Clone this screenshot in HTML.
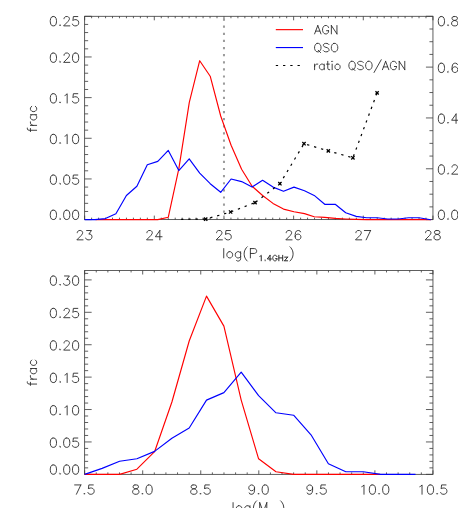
<!DOCTYPE html>
<html><head><meta charset="utf-8"><title>chart</title>
<style>
html,body{margin:0;padding:0;background:#fff;}
body{width:458px;height:508px;overflow:hidden;font-family:"Liberation Sans",sans-serif;}
svg{display:block;position:absolute;left:0;top:0;}
text{font-family:"Liberation Sans",sans-serif;}
</style></head><body>
<svg width="458" height="508" viewBox="0 0 458 508">
<rect width="458" height="508" fill="#fff"/>
<rect x="84.65" y="16.30" width="348.30" height="203.30" fill="none" stroke="#3c3c3c" stroke-width="0.82"/>
<line x1="84.65" y1="16.30" x2="84.65" y2="20.30" stroke="#3c3c3c" stroke-width="0.82" />
<line x1="84.65" y1="219.60" x2="84.65" y2="215.60" stroke="#3c3c3c" stroke-width="0.82" />
<line x1="91.62" y1="16.30" x2="91.62" y2="18.25" stroke="#3c3c3c" stroke-width="0.82" />
<line x1="91.62" y1="219.60" x2="91.62" y2="217.65" stroke="#3c3c3c" stroke-width="0.82" />
<line x1="98.58" y1="16.30" x2="98.58" y2="18.25" stroke="#3c3c3c" stroke-width="0.82" />
<line x1="98.58" y1="219.60" x2="98.58" y2="217.65" stroke="#3c3c3c" stroke-width="0.82" />
<line x1="105.55" y1="16.30" x2="105.55" y2="18.25" stroke="#3c3c3c" stroke-width="0.82" />
<line x1="105.55" y1="219.60" x2="105.55" y2="217.65" stroke="#3c3c3c" stroke-width="0.82" />
<line x1="112.51" y1="16.30" x2="112.51" y2="18.25" stroke="#3c3c3c" stroke-width="0.82" />
<line x1="112.51" y1="219.60" x2="112.51" y2="217.65" stroke="#3c3c3c" stroke-width="0.82" />
<line x1="119.48" y1="16.30" x2="119.48" y2="18.25" stroke="#3c3c3c" stroke-width="0.82" />
<line x1="119.48" y1="219.60" x2="119.48" y2="217.65" stroke="#3c3c3c" stroke-width="0.82" />
<line x1="126.45" y1="16.30" x2="126.45" y2="18.25" stroke="#3c3c3c" stroke-width="0.82" />
<line x1="126.45" y1="219.60" x2="126.45" y2="217.65" stroke="#3c3c3c" stroke-width="0.82" />
<line x1="133.41" y1="16.30" x2="133.41" y2="18.25" stroke="#3c3c3c" stroke-width="0.82" />
<line x1="133.41" y1="219.60" x2="133.41" y2="217.65" stroke="#3c3c3c" stroke-width="0.82" />
<line x1="140.38" y1="16.30" x2="140.38" y2="18.25" stroke="#3c3c3c" stroke-width="0.82" />
<line x1="140.38" y1="219.60" x2="140.38" y2="217.65" stroke="#3c3c3c" stroke-width="0.82" />
<line x1="147.34" y1="16.30" x2="147.34" y2="18.25" stroke="#3c3c3c" stroke-width="0.82" />
<line x1="147.34" y1="219.60" x2="147.34" y2="217.65" stroke="#3c3c3c" stroke-width="0.82" />
<line x1="154.31" y1="16.30" x2="154.31" y2="20.30" stroke="#3c3c3c" stroke-width="0.82" />
<line x1="154.31" y1="219.60" x2="154.31" y2="215.60" stroke="#3c3c3c" stroke-width="0.82" />
<line x1="161.28" y1="16.30" x2="161.28" y2="18.25" stroke="#3c3c3c" stroke-width="0.82" />
<line x1="161.28" y1="219.60" x2="161.28" y2="217.65" stroke="#3c3c3c" stroke-width="0.82" />
<line x1="168.24" y1="16.30" x2="168.24" y2="18.25" stroke="#3c3c3c" stroke-width="0.82" />
<line x1="168.24" y1="219.60" x2="168.24" y2="217.65" stroke="#3c3c3c" stroke-width="0.82" />
<line x1="175.21" y1="16.30" x2="175.21" y2="18.25" stroke="#3c3c3c" stroke-width="0.82" />
<line x1="175.21" y1="219.60" x2="175.21" y2="217.65" stroke="#3c3c3c" stroke-width="0.82" />
<line x1="182.17" y1="16.30" x2="182.17" y2="18.25" stroke="#3c3c3c" stroke-width="0.82" />
<line x1="182.17" y1="219.60" x2="182.17" y2="217.65" stroke="#3c3c3c" stroke-width="0.82" />
<line x1="189.14" y1="16.30" x2="189.14" y2="18.25" stroke="#3c3c3c" stroke-width="0.82" />
<line x1="189.14" y1="219.60" x2="189.14" y2="217.65" stroke="#3c3c3c" stroke-width="0.82" />
<line x1="196.11" y1="16.30" x2="196.11" y2="18.25" stroke="#3c3c3c" stroke-width="0.82" />
<line x1="196.11" y1="219.60" x2="196.11" y2="217.65" stroke="#3c3c3c" stroke-width="0.82" />
<line x1="203.07" y1="16.30" x2="203.07" y2="18.25" stroke="#3c3c3c" stroke-width="0.82" />
<line x1="203.07" y1="219.60" x2="203.07" y2="217.65" stroke="#3c3c3c" stroke-width="0.82" />
<line x1="210.04" y1="16.30" x2="210.04" y2="18.25" stroke="#3c3c3c" stroke-width="0.82" />
<line x1="210.04" y1="219.60" x2="210.04" y2="217.65" stroke="#3c3c3c" stroke-width="0.82" />
<line x1="217.00" y1="16.30" x2="217.00" y2="18.25" stroke="#3c3c3c" stroke-width="0.82" />
<line x1="217.00" y1="219.60" x2="217.00" y2="217.65" stroke="#3c3c3c" stroke-width="0.82" />
<line x1="223.97" y1="16.30" x2="223.97" y2="20.30" stroke="#3c3c3c" stroke-width="0.82" />
<line x1="223.97" y1="219.60" x2="223.97" y2="215.60" stroke="#3c3c3c" stroke-width="0.82" />
<line x1="230.94" y1="16.30" x2="230.94" y2="18.25" stroke="#3c3c3c" stroke-width="0.82" />
<line x1="230.94" y1="219.60" x2="230.94" y2="217.65" stroke="#3c3c3c" stroke-width="0.82" />
<line x1="237.90" y1="16.30" x2="237.90" y2="18.25" stroke="#3c3c3c" stroke-width="0.82" />
<line x1="237.90" y1="219.60" x2="237.90" y2="217.65" stroke="#3c3c3c" stroke-width="0.82" />
<line x1="244.87" y1="16.30" x2="244.87" y2="18.25" stroke="#3c3c3c" stroke-width="0.82" />
<line x1="244.87" y1="219.60" x2="244.87" y2="217.65" stroke="#3c3c3c" stroke-width="0.82" />
<line x1="251.83" y1="16.30" x2="251.83" y2="18.25" stroke="#3c3c3c" stroke-width="0.82" />
<line x1="251.83" y1="219.60" x2="251.83" y2="217.65" stroke="#3c3c3c" stroke-width="0.82" />
<line x1="258.80" y1="16.30" x2="258.80" y2="18.25" stroke="#3c3c3c" stroke-width="0.82" />
<line x1="258.80" y1="219.60" x2="258.80" y2="217.65" stroke="#3c3c3c" stroke-width="0.82" />
<line x1="265.77" y1="16.30" x2="265.77" y2="18.25" stroke="#3c3c3c" stroke-width="0.82" />
<line x1="265.77" y1="219.60" x2="265.77" y2="217.65" stroke="#3c3c3c" stroke-width="0.82" />
<line x1="272.73" y1="16.30" x2="272.73" y2="18.25" stroke="#3c3c3c" stroke-width="0.82" />
<line x1="272.73" y1="219.60" x2="272.73" y2="217.65" stroke="#3c3c3c" stroke-width="0.82" />
<line x1="279.70" y1="16.30" x2="279.70" y2="18.25" stroke="#3c3c3c" stroke-width="0.82" />
<line x1="279.70" y1="219.60" x2="279.70" y2="217.65" stroke="#3c3c3c" stroke-width="0.82" />
<line x1="286.66" y1="16.30" x2="286.66" y2="18.25" stroke="#3c3c3c" stroke-width="0.82" />
<line x1="286.66" y1="219.60" x2="286.66" y2="217.65" stroke="#3c3c3c" stroke-width="0.82" />
<line x1="293.63" y1="16.30" x2="293.63" y2="20.30" stroke="#3c3c3c" stroke-width="0.82" />
<line x1="293.63" y1="219.60" x2="293.63" y2="215.60" stroke="#3c3c3c" stroke-width="0.82" />
<line x1="300.60" y1="16.30" x2="300.60" y2="18.25" stroke="#3c3c3c" stroke-width="0.82" />
<line x1="300.60" y1="219.60" x2="300.60" y2="217.65" stroke="#3c3c3c" stroke-width="0.82" />
<line x1="307.56" y1="16.30" x2="307.56" y2="18.25" stroke="#3c3c3c" stroke-width="0.82" />
<line x1="307.56" y1="219.60" x2="307.56" y2="217.65" stroke="#3c3c3c" stroke-width="0.82" />
<line x1="314.53" y1="16.30" x2="314.53" y2="18.25" stroke="#3c3c3c" stroke-width="0.82" />
<line x1="314.53" y1="219.60" x2="314.53" y2="217.65" stroke="#3c3c3c" stroke-width="0.82" />
<line x1="321.49" y1="16.30" x2="321.49" y2="18.25" stroke="#3c3c3c" stroke-width="0.82" />
<line x1="321.49" y1="219.60" x2="321.49" y2="217.65" stroke="#3c3c3c" stroke-width="0.82" />
<line x1="328.46" y1="16.30" x2="328.46" y2="18.25" stroke="#3c3c3c" stroke-width="0.82" />
<line x1="328.46" y1="219.60" x2="328.46" y2="217.65" stroke="#3c3c3c" stroke-width="0.82" />
<line x1="335.43" y1="16.30" x2="335.43" y2="18.25" stroke="#3c3c3c" stroke-width="0.82" />
<line x1="335.43" y1="219.60" x2="335.43" y2="217.65" stroke="#3c3c3c" stroke-width="0.82" />
<line x1="342.39" y1="16.30" x2="342.39" y2="18.25" stroke="#3c3c3c" stroke-width="0.82" />
<line x1="342.39" y1="219.60" x2="342.39" y2="217.65" stroke="#3c3c3c" stroke-width="0.82" />
<line x1="349.36" y1="16.30" x2="349.36" y2="18.25" stroke="#3c3c3c" stroke-width="0.82" />
<line x1="349.36" y1="219.60" x2="349.36" y2="217.65" stroke="#3c3c3c" stroke-width="0.82" />
<line x1="356.32" y1="16.30" x2="356.32" y2="18.25" stroke="#3c3c3c" stroke-width="0.82" />
<line x1="356.32" y1="219.60" x2="356.32" y2="217.65" stroke="#3c3c3c" stroke-width="0.82" />
<line x1="363.29" y1="16.30" x2="363.29" y2="20.30" stroke="#3c3c3c" stroke-width="0.82" />
<line x1="363.29" y1="219.60" x2="363.29" y2="215.60" stroke="#3c3c3c" stroke-width="0.82" />
<line x1="370.26" y1="16.30" x2="370.26" y2="18.25" stroke="#3c3c3c" stroke-width="0.82" />
<line x1="370.26" y1="219.60" x2="370.26" y2="217.65" stroke="#3c3c3c" stroke-width="0.82" />
<line x1="377.22" y1="16.30" x2="377.22" y2="18.25" stroke="#3c3c3c" stroke-width="0.82" />
<line x1="377.22" y1="219.60" x2="377.22" y2="217.65" stroke="#3c3c3c" stroke-width="0.82" />
<line x1="384.19" y1="16.30" x2="384.19" y2="18.25" stroke="#3c3c3c" stroke-width="0.82" />
<line x1="384.19" y1="219.60" x2="384.19" y2="217.65" stroke="#3c3c3c" stroke-width="0.82" />
<line x1="391.15" y1="16.30" x2="391.15" y2="18.25" stroke="#3c3c3c" stroke-width="0.82" />
<line x1="391.15" y1="219.60" x2="391.15" y2="217.65" stroke="#3c3c3c" stroke-width="0.82" />
<line x1="398.12" y1="16.30" x2="398.12" y2="18.25" stroke="#3c3c3c" stroke-width="0.82" />
<line x1="398.12" y1="219.60" x2="398.12" y2="217.65" stroke="#3c3c3c" stroke-width="0.82" />
<line x1="405.09" y1="16.30" x2="405.09" y2="18.25" stroke="#3c3c3c" stroke-width="0.82" />
<line x1="405.09" y1="219.60" x2="405.09" y2="217.65" stroke="#3c3c3c" stroke-width="0.82" />
<line x1="412.05" y1="16.30" x2="412.05" y2="18.25" stroke="#3c3c3c" stroke-width="0.82" />
<line x1="412.05" y1="219.60" x2="412.05" y2="217.65" stroke="#3c3c3c" stroke-width="0.82" />
<line x1="419.02" y1="16.30" x2="419.02" y2="18.25" stroke="#3c3c3c" stroke-width="0.82" />
<line x1="419.02" y1="219.60" x2="419.02" y2="217.65" stroke="#3c3c3c" stroke-width="0.82" />
<line x1="425.98" y1="16.30" x2="425.98" y2="18.25" stroke="#3c3c3c" stroke-width="0.82" />
<line x1="425.98" y1="219.60" x2="425.98" y2="217.65" stroke="#3c3c3c" stroke-width="0.82" />
<line x1="432.95" y1="16.30" x2="432.95" y2="20.30" stroke="#3c3c3c" stroke-width="0.82" />
<line x1="432.95" y1="219.60" x2="432.95" y2="215.60" stroke="#3c3c3c" stroke-width="0.82" />
<line x1="84.65" y1="219.60" x2="91.65" y2="219.60" stroke="#3c3c3c" stroke-width="0.82" />
<line x1="84.65" y1="211.47" x2="88.15" y2="211.47" stroke="#3c3c3c" stroke-width="0.82" />
<line x1="84.65" y1="203.34" x2="88.15" y2="203.34" stroke="#3c3c3c" stroke-width="0.82" />
<line x1="84.65" y1="195.20" x2="88.15" y2="195.20" stroke="#3c3c3c" stroke-width="0.82" />
<line x1="84.65" y1="187.07" x2="88.15" y2="187.07" stroke="#3c3c3c" stroke-width="0.82" />
<line x1="84.65" y1="178.94" x2="91.65" y2="178.94" stroke="#3c3c3c" stroke-width="0.82" />
<line x1="84.65" y1="170.81" x2="88.15" y2="170.81" stroke="#3c3c3c" stroke-width="0.82" />
<line x1="84.65" y1="162.68" x2="88.15" y2="162.68" stroke="#3c3c3c" stroke-width="0.82" />
<line x1="84.65" y1="154.54" x2="88.15" y2="154.54" stroke="#3c3c3c" stroke-width="0.82" />
<line x1="84.65" y1="146.41" x2="88.15" y2="146.41" stroke="#3c3c3c" stroke-width="0.82" />
<line x1="84.65" y1="138.28" x2="91.65" y2="138.28" stroke="#3c3c3c" stroke-width="0.82" />
<line x1="84.65" y1="130.15" x2="88.15" y2="130.15" stroke="#3c3c3c" stroke-width="0.82" />
<line x1="84.65" y1="122.02" x2="88.15" y2="122.02" stroke="#3c3c3c" stroke-width="0.82" />
<line x1="84.65" y1="113.88" x2="88.15" y2="113.88" stroke="#3c3c3c" stroke-width="0.82" />
<line x1="84.65" y1="105.75" x2="88.15" y2="105.75" stroke="#3c3c3c" stroke-width="0.82" />
<line x1="84.65" y1="97.62" x2="91.65" y2="97.62" stroke="#3c3c3c" stroke-width="0.82" />
<line x1="84.65" y1="89.49" x2="88.15" y2="89.49" stroke="#3c3c3c" stroke-width="0.82" />
<line x1="84.65" y1="81.36" x2="88.15" y2="81.36" stroke="#3c3c3c" stroke-width="0.82" />
<line x1="84.65" y1="73.22" x2="88.15" y2="73.22" stroke="#3c3c3c" stroke-width="0.82" />
<line x1="84.65" y1="65.09" x2="88.15" y2="65.09" stroke="#3c3c3c" stroke-width="0.82" />
<line x1="84.65" y1="56.96" x2="91.65" y2="56.96" stroke="#3c3c3c" stroke-width="0.82" />
<line x1="84.65" y1="48.83" x2="88.15" y2="48.83" stroke="#3c3c3c" stroke-width="0.82" />
<line x1="84.65" y1="40.70" x2="88.15" y2="40.70" stroke="#3c3c3c" stroke-width="0.82" />
<line x1="84.65" y1="32.56" x2="88.15" y2="32.56" stroke="#3c3c3c" stroke-width="0.82" />
<line x1="84.65" y1="24.43" x2="88.15" y2="24.43" stroke="#3c3c3c" stroke-width="0.82" />
<line x1="84.65" y1="16.30" x2="91.65" y2="16.30" stroke="#3c3c3c" stroke-width="0.82" />
<line x1="432.95" y1="219.60" x2="425.95" y2="219.60" stroke="#3c3c3c" stroke-width="0.82" />
<line x1="432.95" y1="206.89" x2="429.45" y2="206.89" stroke="#3c3c3c" stroke-width="0.82" />
<line x1="432.95" y1="194.19" x2="429.45" y2="194.19" stroke="#3c3c3c" stroke-width="0.82" />
<line x1="432.95" y1="181.48" x2="429.45" y2="181.48" stroke="#3c3c3c" stroke-width="0.82" />
<line x1="432.95" y1="168.78" x2="425.95" y2="168.78" stroke="#3c3c3c" stroke-width="0.82" />
<line x1="432.95" y1="156.07" x2="429.45" y2="156.07" stroke="#3c3c3c" stroke-width="0.82" />
<line x1="432.95" y1="143.36" x2="429.45" y2="143.36" stroke="#3c3c3c" stroke-width="0.82" />
<line x1="432.95" y1="130.66" x2="429.45" y2="130.66" stroke="#3c3c3c" stroke-width="0.82" />
<line x1="432.95" y1="117.95" x2="425.95" y2="117.95" stroke="#3c3c3c" stroke-width="0.82" />
<line x1="432.95" y1="105.24" x2="429.45" y2="105.24" stroke="#3c3c3c" stroke-width="0.82" />
<line x1="432.95" y1="92.54" x2="429.45" y2="92.54" stroke="#3c3c3c" stroke-width="0.82" />
<line x1="432.95" y1="79.83" x2="429.45" y2="79.83" stroke="#3c3c3c" stroke-width="0.82" />
<line x1="432.95" y1="67.12" x2="425.95" y2="67.12" stroke="#3c3c3c" stroke-width="0.82" />
<line x1="432.95" y1="54.42" x2="429.45" y2="54.42" stroke="#3c3c3c" stroke-width="0.82" />
<line x1="432.95" y1="41.71" x2="429.45" y2="41.71" stroke="#3c3c3c" stroke-width="0.82" />
<line x1="432.95" y1="29.01" x2="429.45" y2="29.01" stroke="#3c3c3c" stroke-width="0.82" />
<line x1="432.95" y1="16.30" x2="425.95" y2="16.30" stroke="#3c3c3c" stroke-width="0.82" />
<line x1="223.97" y1="18.50" x2="223.97" y2="219.60" stroke="#9c9c9c" stroke-width="2.00" stroke-dasharray="2.2 4.915"/>
<polyline points="95.50,219.60 157.80,219.60 168.30,217.20 178.80,168.90 189.30,102.40 199.70,60.70 210.20,76.20 220.70,116.00 231.10,145.30 241.60,169.30 252.10,186.30 262.60,195.50 273.00,203.40 283.50,209.10 294.00,211.70 304.50,213.60 314.20,216.70 324.70,217.40 335.20,218.40 345.70,219.00 356.20,219.40 366.60,219.60 430.80,219.60" fill="none" stroke="#ff0000" stroke-width="1.15" stroke-linejoin="round" />
<polyline points="84.65,219.60 94.90,219.60 105.40,218.60 115.90,213.80 126.40,195.50 136.90,186.30 147.30,164.80 157.80,161.40 168.30,150.40 178.80,170.60 189.20,158.80 199.70,173.20 210.20,183.70 220.70,192.30 231.10,179.00 241.60,181.60 252.10,187.10 262.60,180.30 273.00,187.10 283.50,191.30 294.00,187.10 304.50,190.80 314.20,195.40 324.70,204.30 335.20,204.30 345.70,212.80 356.20,216.40 366.60,217.70 377.10,217.70 387.60,219.00 398.10,219.00 408.60,217.70 419.00,217.70 430.80,219.80" fill="none" stroke="#0000ff" stroke-width="1.15" stroke-linejoin="round" />
<line x1="181.20" y1="219.30" x2="205.70" y2="219.10" stroke="#000" stroke-width="1.20" stroke-dasharray="2.3 4.94" stroke-dashoffset="0.15"/>
<line x1="205.70" y1="219.10" x2="230.60" y2="212.00" stroke="#000" stroke-width="1.20" stroke-dasharray="2.3 4.94" stroke-dashoffset="2.59"/>
<line x1="230.60" y1="212.00" x2="255.00" y2="202.60" stroke="#000" stroke-width="1.20" stroke-dasharray="2.3 4.94" stroke-dashoffset="6.69"/>
<line x1="255.00" y1="202.60" x2="279.90" y2="183.70" stroke="#000" stroke-width="1.20" stroke-dasharray="2.3 4.94" stroke-dashoffset="6.33"/>
<line x1="279.90" y1="183.70" x2="304.00" y2="143.70" stroke="#000" stroke-width="1.20" stroke-dasharray="2.3 4.94" stroke-dashoffset="0.74"/>
<line x1="304.00" y1="143.70" x2="328.30" y2="150.90" stroke="#000" stroke-width="1.20" stroke-dasharray="2.3 4.94" stroke-dashoffset="3.99"/>
<line x1="328.30" y1="150.90" x2="352.90" y2="157.80" stroke="#000" stroke-width="1.20" stroke-dasharray="2.3 4.94" stroke-dashoffset="1.05"/>
<line x1="352.90" y1="157.80" x2="377.10" y2="92.90" stroke="#000" stroke-width="1.20" stroke-dasharray="2.3 4.94" stroke-dashoffset="5.79"/>
<line x1="204.05" y1="217.45" x2="207.35" y2="220.75" stroke="#000" stroke-width="1.30" />
<line x1="204.05" y1="220.75" x2="207.35" y2="217.45" stroke="#000" stroke-width="1.30" />
<line x1="228.95" y1="210.35" x2="232.25" y2="213.65" stroke="#000" stroke-width="1.30" />
<line x1="228.95" y1="213.65" x2="232.25" y2="210.35" stroke="#000" stroke-width="1.30" />
<line x1="253.35" y1="200.95" x2="256.65" y2="204.25" stroke="#000" stroke-width="1.30" />
<line x1="253.35" y1="204.25" x2="256.65" y2="200.95" stroke="#000" stroke-width="1.30" />
<line x1="278.25" y1="182.05" x2="281.55" y2="185.35" stroke="#000" stroke-width="1.30" />
<line x1="278.25" y1="185.35" x2="281.55" y2="182.05" stroke="#000" stroke-width="1.30" />
<line x1="302.35" y1="142.05" x2="305.65" y2="145.35" stroke="#000" stroke-width="1.30" />
<line x1="302.35" y1="145.35" x2="305.65" y2="142.05" stroke="#000" stroke-width="1.30" />
<line x1="326.65" y1="149.25" x2="329.95" y2="152.55" stroke="#000" stroke-width="1.30" />
<line x1="326.65" y1="152.55" x2="329.95" y2="149.25" stroke="#000" stroke-width="1.30" />
<line x1="351.25" y1="156.15" x2="354.55" y2="159.45" stroke="#000" stroke-width="1.30" />
<line x1="351.25" y1="159.45" x2="354.55" y2="156.15" stroke="#000" stroke-width="1.30" />
<line x1="375.45" y1="91.25" x2="378.75" y2="94.55" stroke="#000" stroke-width="1.30" />
<line x1="375.45" y1="94.55" x2="378.75" y2="91.25" stroke="#000" stroke-width="1.30" />
<line x1="275.80" y1="29.65" x2="303.00" y2="29.65" stroke="#ff0000" stroke-width="1.15" />
<line x1="275.80" y1="47.55" x2="303.00" y2="47.55" stroke="#0000ff" stroke-width="1.15" />
<line x1="275.80" y1="65.50" x2="303.00" y2="65.50" stroke="#000" stroke-width="1.05" stroke-dasharray="2.3 4.94"/>
<path d="M317.79 25.52 L314.60 33.90 M317.79 25.52 L320.98 33.90 M315.80 31.11 L319.79 31.11 M328.56 27.52 L328.17 26.72 L327.37 25.92 L326.57 25.52 L324.97 25.52 L324.18 25.92 L323.38 26.72 L322.98 27.52 L322.58 28.71 L322.58 30.71 L322.98 31.90 L323.38 32.70 L324.18 33.50 L324.97 33.90 L326.57 33.90 L327.37 33.50 L328.17 32.70 L328.56 31.90 L328.56 30.71 M326.57 30.71 L328.56 30.71 M331.36 25.52 L331.36 33.90 M331.36 25.52 L336.94 33.90 M336.94 25.52 L336.94 33.90" fill="none" stroke="#2a2a2a" stroke-width="0.90" stroke-linecap="round" stroke-linejoin="round" />
<path d="M316.99 43.42 L316.20 43.82 L315.40 44.62 L315.00 45.42 L314.60 46.61 L314.60 48.61 L315.00 49.80 L315.40 50.60 L316.20 51.40 L316.99 51.80 L318.59 51.80 L319.39 51.40 L320.19 50.60 L320.59 49.80 L320.98 48.61 L320.98 46.61 L320.59 45.42 L320.19 44.62 L319.39 43.82 L318.59 43.42 L316.99 43.42 M318.19 50.20 L320.59 52.60 M328.96 44.62 L328.17 43.82 L326.97 43.42 L325.37 43.42 L324.18 43.82 L323.38 44.62 L323.38 45.42 L323.78 46.21 L324.18 46.61 L324.97 47.01 L327.37 47.81 L328.17 48.21 L328.56 48.61 L328.96 49.41 L328.96 50.60 L328.17 51.40 L326.97 51.80 L325.37 51.80 L324.18 51.40 L323.38 50.60 M333.75 43.42 L332.95 43.82 L332.16 44.62 L331.76 45.42 L331.36 46.61 L331.36 48.61 L331.76 49.80 L332.16 50.60 L332.95 51.40 L333.75 51.80 L335.35 51.80 L336.15 51.40 L336.94 50.60 L337.34 49.80 L337.74 48.61 L337.74 46.61 L337.34 45.42 L336.94 44.62 L336.15 43.82 L335.35 43.42 L333.75 43.42" fill="none" stroke="#2a2a2a" stroke-width="0.90" stroke-linecap="round" stroke-linejoin="round" />
<path d="M314.60 64.11 L314.60 69.70 M314.60 66.51 L315.00 65.31 L315.80 64.51 L316.60 64.11 L317.79 64.11 M324.18 64.11 L324.18 69.70 M324.18 65.31 L323.38 64.51 L322.58 64.11 L321.38 64.11 L320.59 64.51 L319.79 65.31 L319.39 66.51 L319.39 67.31 L319.79 68.50 L320.59 69.30 L321.38 69.70 L322.58 69.70 L323.38 69.30 L324.18 68.50 M327.77 61.32 L327.77 68.10 L328.17 69.30 L328.96 69.70 L329.76 69.70 M326.57 64.11 L329.36 64.11 M331.76 61.32 L332.16 61.72 L332.56 61.32 L332.16 60.92 L331.76 61.32 M332.16 64.11 L332.16 69.70 M336.94 64.11 L336.15 64.51 L335.35 65.31 L334.95 66.51 L334.95 67.31 L335.35 68.50 L336.15 69.30 L336.94 69.70 L338.14 69.70 L338.94 69.30 L339.74 68.50 L340.14 67.31 L340.14 66.51 L339.74 65.31 L338.94 64.51 L338.14 64.11 L336.94 64.11 M351.31 61.32 L350.51 61.72 L349.71 62.52 L349.31 63.32 L348.91 64.51 L348.91 66.51 L349.31 67.70 L349.71 68.50 L350.51 69.30 L351.31 69.70 L352.90 69.70 L353.70 69.30 L354.50 68.50 L354.90 67.70 L355.30 66.51 L355.30 64.51 L354.90 63.32 L354.50 62.52 L353.70 61.72 L352.90 61.32 L351.31 61.32 M352.50 68.10 L354.90 70.50 M363.28 62.52 L362.48 61.72 L361.28 61.32 L359.69 61.32 L358.49 61.72 L357.69 62.52 L357.69 63.32 L358.09 64.11 L358.49 64.51 L359.29 64.91 L361.68 65.71 L362.48 66.11 L362.88 66.51 L363.28 67.31 L363.28 68.50 L362.48 69.30 L361.28 69.70 L359.69 69.70 L358.49 69.30 L357.69 68.50 M368.07 61.32 L367.27 61.72 L366.47 62.52 L366.07 63.32 L365.67 64.51 L365.67 66.51 L366.07 67.70 L366.47 68.50 L367.27 69.30 L368.07 69.70 L369.66 69.70 L370.46 69.30 L371.26 68.50 L371.66 67.70 L372.06 66.51 L372.06 64.51 L371.66 63.32 L371.26 62.52 L370.46 61.72 L369.66 61.32 L368.07 61.32 M381.23 59.73 L374.05 72.49 M385.62 61.32 L382.43 69.70 M385.62 61.32 L388.81 69.70 M383.63 66.91 L387.62 66.91 M396.40 63.32 L396.00 62.52 L395.20 61.72 L394.40 61.32 L392.80 61.32 L392.01 61.72 L391.21 62.52 L390.81 63.32 L390.41 64.51 L390.41 66.51 L390.81 67.70 L391.21 68.50 L392.01 69.30 L392.80 69.70 L394.40 69.70 L395.20 69.30 L396.00 68.50 L396.40 67.70 L396.40 66.51 M394.40 66.51 L396.40 66.51 M399.19 61.32 L399.19 69.70 M399.19 61.32 L404.77 69.70 M404.77 61.32 L404.77 69.70" fill="none" stroke="#2a2a2a" stroke-width="0.90" stroke-linecap="round" stroke-linejoin="round" />
<path d="M52.95 210.18 L51.62 210.62 L50.73 211.95 L50.28 214.17 L50.28 215.50 L50.73 217.72 L51.62 219.06 L52.95 219.50 L53.84 219.50 L55.17 219.06 L56.06 217.72 L56.50 215.50 L56.50 214.17 L56.06 211.95 L55.17 210.62 L53.84 210.18 L52.95 210.18 M60.05 218.61 L59.61 219.06 L60.05 219.50 L60.50 219.06 L60.05 218.61 M66.27 210.18 L64.94 210.62 L64.05 211.95 L63.60 214.17 L63.60 215.50 L64.05 217.72 L64.94 219.06 L66.27 219.50 L67.16 219.50 L68.49 219.06 L69.38 217.72 L69.82 215.50 L69.82 214.17 L69.38 211.95 L68.49 210.62 L67.16 210.18 L66.27 210.18 M75.15 210.18 L73.82 210.62 L72.93 211.95 L72.48 214.17 L72.48 215.50 L72.93 217.72 L73.82 219.06 L75.15 219.50 L76.04 219.50 L77.37 219.06 L78.26 217.72 L78.70 215.50 L78.70 214.17 L78.26 211.95 L77.37 210.62 L76.04 210.18 L75.15 210.18" fill="none" stroke="#2a2a2a" stroke-width="0.90" stroke-linecap="round" stroke-linejoin="round" />
<path d="M52.95 175.02 L51.62 175.46 L50.73 176.79 L50.28 179.01 L50.28 180.34 L50.73 182.56 L51.62 183.90 L52.95 184.34 L53.84 184.34 L55.17 183.90 L56.06 182.56 L56.50 180.34 L56.50 179.01 L56.06 176.79 L55.17 175.46 L53.84 175.02 L52.95 175.02 M60.05 183.45 L59.61 183.90 L60.05 184.34 L60.50 183.90 L60.05 183.45 M66.27 175.02 L64.94 175.46 L64.05 176.79 L63.60 179.01 L63.60 180.34 L64.05 182.56 L64.94 183.90 L66.27 184.34 L67.16 184.34 L68.49 183.90 L69.38 182.56 L69.82 180.34 L69.82 179.01 L69.38 176.79 L68.49 175.46 L67.16 175.02 L66.27 175.02 M77.81 175.02 L73.37 175.02 L72.93 179.01 L73.37 178.57 L74.70 178.12 L76.04 178.12 L77.37 178.57 L78.26 179.46 L78.70 180.79 L78.70 181.68 L78.26 183.01 L77.37 183.90 L76.04 184.34 L74.70 184.34 L73.37 183.90 L72.93 183.45 L72.48 182.56" fill="none" stroke="#2a2a2a" stroke-width="0.90" stroke-linecap="round" stroke-linejoin="round" />
<path d="M52.95 134.36 L51.62 134.80 L50.73 136.13 L50.28 138.35 L50.28 139.68 L50.73 141.90 L51.62 143.24 L52.95 143.68 L53.84 143.68 L55.17 143.24 L56.06 141.90 L56.50 139.68 L56.50 138.35 L56.06 136.13 L55.17 134.80 L53.84 134.36 L52.95 134.36 M60.05 142.79 L59.61 143.24 L60.05 143.68 L60.50 143.24 L60.05 142.79 M64.94 136.13 L65.82 135.69 L67.16 134.36 L67.16 143.68 M75.15 134.36 L73.82 134.80 L72.93 136.13 L72.48 138.35 L72.48 139.68 L72.93 141.90 L73.82 143.24 L75.15 143.68 L76.04 143.68 L77.37 143.24 L78.26 141.90 L78.70 139.68 L78.70 138.35 L78.26 136.13 L77.37 134.80 L76.04 134.36 L75.15 134.36" fill="none" stroke="#2a2a2a" stroke-width="0.90" stroke-linecap="round" stroke-linejoin="round" />
<path d="M52.95 93.70 L51.62 94.14 L50.73 95.47 L50.28 97.69 L50.28 99.02 L50.73 101.24 L51.62 102.58 L52.95 103.02 L53.84 103.02 L55.17 102.58 L56.06 101.24 L56.50 99.02 L56.50 97.69 L56.06 95.47 L55.17 94.14 L53.84 93.70 L52.95 93.70 M60.05 102.13 L59.61 102.58 L60.05 103.02 L60.50 102.58 L60.05 102.13 M64.94 95.47 L65.82 95.03 L67.16 93.70 L67.16 103.02 M77.81 93.70 L73.37 93.70 L72.93 97.69 L73.37 97.25 L74.70 96.80 L76.04 96.80 L77.37 97.25 L78.26 98.14 L78.70 99.47 L78.70 100.36 L78.26 101.69 L77.37 102.58 L76.04 103.02 L74.70 103.02 L73.37 102.58 L72.93 102.13 L72.48 101.24" fill="none" stroke="#2a2a2a" stroke-width="0.90" stroke-linecap="round" stroke-linejoin="round" />
<path d="M52.95 53.04 L51.62 53.48 L50.73 54.81 L50.28 57.03 L50.28 58.36 L50.73 60.58 L51.62 61.92 L52.95 62.36 L53.84 62.36 L55.17 61.92 L56.06 60.58 L56.50 58.36 L56.50 57.03 L56.06 54.81 L55.17 53.48 L53.84 53.04 L52.95 53.04 M60.05 61.47 L59.61 61.92 L60.05 62.36 L60.50 61.92 L60.05 61.47 M64.05 55.26 L64.05 54.81 L64.49 53.92 L64.94 53.48 L65.82 53.04 L67.60 53.04 L68.49 53.48 L68.93 53.92 L69.38 54.81 L69.38 55.70 L68.93 56.59 L68.04 57.92 L63.60 62.36 L69.82 62.36 M75.15 53.04 L73.82 53.48 L72.93 54.81 L72.48 57.03 L72.48 58.36 L72.93 60.58 L73.82 61.92 L75.15 62.36 L76.04 62.36 L77.37 61.92 L78.26 60.58 L78.70 58.36 L78.70 57.03 L78.26 54.81 L77.37 53.48 L76.04 53.04 L75.15 53.04" fill="none" stroke="#2a2a2a" stroke-width="0.90" stroke-linecap="round" stroke-linejoin="round" />
<path d="M52.95 16.55 L51.62 16.99 L50.73 18.33 L50.28 20.55 L50.28 21.88 L50.73 24.10 L51.62 25.43 L52.95 25.87 L53.84 25.87 L55.17 25.43 L56.06 24.10 L56.50 21.88 L56.50 20.55 L56.06 18.33 L55.17 16.99 L53.84 16.55 L52.95 16.55 M60.05 24.99 L59.61 25.43 L60.05 25.87 L60.50 25.43 L60.05 24.99 M64.05 18.77 L64.05 18.33 L64.49 17.44 L64.94 16.99 L65.82 16.55 L67.60 16.55 L68.49 16.99 L68.93 17.44 L69.38 18.33 L69.38 19.21 L68.93 20.10 L68.04 21.43 L63.60 25.87 L69.82 25.87 M77.81 16.55 L73.37 16.55 L72.93 20.55 L73.37 20.10 L74.70 19.66 L76.04 19.66 L77.37 20.10 L78.26 20.99 L78.70 22.32 L78.70 23.21 L78.26 24.54 L77.37 25.43 L76.04 25.87 L74.70 25.87 L73.37 25.43 L72.93 24.99 L72.48 24.10" fill="none" stroke="#2a2a2a" stroke-width="0.90" stroke-linecap="round" stroke-linejoin="round" />
<path d="M440.96 210.18 L439.63 210.62 L438.74 211.95 L438.30 214.17 L438.30 215.50 L438.74 217.72 L439.63 219.06 L440.96 219.50 L441.85 219.50 L443.18 219.06 L444.07 217.72 L444.52 215.50 L444.52 214.17 L444.07 211.95 L443.18 210.62 L441.85 210.18 L440.96 210.18 M448.07 218.61 L447.62 219.06 L448.07 219.50 L448.51 219.06 L448.07 218.61 M454.28 210.18 L452.95 210.62 L452.06 211.95 L451.62 214.17 L451.62 215.50 L452.06 217.72 L452.95 219.06 L454.28 219.50 L455.17 219.50 L456.50 219.06 L457.39 217.72 L457.84 215.50 L457.84 214.17 L457.39 211.95 L456.50 210.62 L455.17 210.18 L454.28 210.18" fill="none" stroke="#2a2a2a" stroke-width="0.90" stroke-linecap="round" stroke-linejoin="round" />
<path d="M440.96 164.85 L439.63 165.30 L438.74 166.63 L438.30 168.85 L438.30 170.18 L438.74 172.40 L439.63 173.73 L440.96 174.18 L441.85 174.18 L443.18 173.73 L444.07 172.40 L444.52 170.18 L444.52 168.85 L444.07 166.63 L443.18 165.30 L441.85 164.85 L440.96 164.85 M448.07 173.29 L447.62 173.73 L448.07 174.18 L448.51 173.73 L448.07 173.29 M452.06 167.07 L452.06 166.63 L452.51 165.74 L452.95 165.30 L453.84 164.85 L455.62 164.85 L456.50 165.30 L456.95 165.74 L457.39 166.63 L457.39 167.52 L456.95 168.40 L456.06 169.74 L451.62 174.18 L457.84 174.18" fill="none" stroke="#2a2a2a" stroke-width="0.90" stroke-linecap="round" stroke-linejoin="round" />
<path d="M440.96 114.03 L439.63 114.47 L438.74 115.80 L438.30 118.02 L438.30 119.35 L438.74 121.57 L439.63 122.91 L440.96 123.35 L441.85 123.35 L443.18 122.91 L444.07 121.57 L444.52 119.35 L444.52 118.02 L444.07 115.80 L443.18 114.47 L441.85 114.03 L440.96 114.03 M448.07 122.46 L447.62 122.91 L448.07 123.35 L448.51 122.91 L448.07 122.46 M456.06 114.03 L451.62 120.24 L458.28 120.24 M456.06 114.03 L456.06 123.35" fill="none" stroke="#2a2a2a" stroke-width="0.90" stroke-linecap="round" stroke-linejoin="round" />
<path d="M440.96 63.20 L439.63 63.65 L438.74 64.98 L438.30 67.20 L438.30 68.53 L438.74 70.75 L439.63 72.08 L440.96 72.53 L441.85 72.53 L443.18 72.08 L444.07 70.75 L444.52 68.53 L444.52 67.20 L444.07 64.98 L443.18 63.65 L441.85 63.20 L440.96 63.20 M448.07 71.64 L447.62 72.08 L448.07 72.53 L448.51 72.08 L448.07 71.64 M457.39 64.53 L456.95 63.65 L455.62 63.20 L454.73 63.20 L453.40 63.65 L452.51 64.98 L452.06 67.20 L452.06 69.42 L452.51 71.19 L453.40 72.08 L454.73 72.53 L455.17 72.53 L456.50 72.08 L457.39 71.19 L457.84 69.86 L457.84 69.42 L457.39 68.09 L456.50 67.20 L455.17 66.75 L454.73 66.75 L453.40 67.20 L452.51 68.09 L452.06 69.42" fill="none" stroke="#2a2a2a" stroke-width="0.90" stroke-linecap="round" stroke-linejoin="round" />
<path d="M440.96 16.55 L439.63 16.99 L438.74 18.33 L438.30 20.55 L438.30 21.88 L438.74 24.10 L439.63 25.43 L440.96 25.87 L441.85 25.87 L443.18 25.43 L444.07 24.10 L444.52 21.88 L444.52 20.55 L444.07 18.33 L443.18 16.99 L441.85 16.55 L440.96 16.55 M448.07 24.99 L447.62 25.43 L448.07 25.87 L448.51 25.43 L448.07 24.99 M453.84 16.55 L452.51 16.99 L452.06 17.88 L452.06 18.77 L452.51 19.66 L453.40 20.10 L455.17 20.55 L456.50 20.99 L457.39 21.88 L457.84 22.77 L457.84 24.10 L457.39 24.99 L456.95 25.43 L455.62 25.87 L453.84 25.87 L452.51 25.43 L452.06 24.99 L451.62 24.10 L451.62 22.77 L452.06 21.88 L452.95 20.99 L454.28 20.55 L456.06 20.10 L456.95 19.66 L457.39 18.77 L457.39 17.88 L456.95 16.99 L455.62 16.55 L453.84 16.55" fill="none" stroke="#2a2a2a" stroke-width="0.90" stroke-linecap="round" stroke-linejoin="round" />
<path d="M77.30 232.75 L77.30 232.30 L77.74 231.41 L78.18 230.97 L79.07 230.53 L80.85 230.53 L81.74 230.97 L82.18 231.41 L82.62 232.30 L82.62 233.19 L82.18 234.08 L81.29 235.41 L76.85 239.85 L83.07 239.85 M86.62 230.53 L91.50 230.53 L88.84 234.08 L90.17 234.08 L91.06 234.52 L91.50 234.97 L91.95 236.30 L91.95 237.19 L91.50 238.52 L90.62 239.41 L89.28 239.85 L87.95 239.85 L86.62 239.41 L86.18 238.96 L85.73 238.07" fill="none" stroke="#2a2a2a" stroke-width="0.90" stroke-linecap="round" stroke-linejoin="round" />
<path d="M146.96 232.75 L146.96 232.30 L147.40 231.41 L147.84 230.97 L148.73 230.53 L150.51 230.53 L151.40 230.97 L151.84 231.41 L152.28 232.30 L152.28 233.19 L151.84 234.08 L150.95 235.41 L146.51 239.85 L152.73 239.85 M159.83 230.53 L155.39 236.74 L162.05 236.74 M159.83 230.53 L159.83 239.85" fill="none" stroke="#2a2a2a" stroke-width="0.90" stroke-linecap="round" stroke-linejoin="round" />
<path d="M216.62 232.75 L216.62 232.30 L217.06 231.41 L217.50 230.97 L218.39 230.53 L220.17 230.53 L221.06 230.97 L221.50 231.41 L221.94 232.30 L221.94 233.19 L221.50 234.08 L220.61 235.41 L216.17 239.85 L222.39 239.85 M230.38 230.53 L225.94 230.53 L225.50 234.52 L225.94 234.08 L227.27 233.63 L228.60 233.63 L229.94 234.08 L230.82 234.97 L231.27 236.30 L231.27 237.19 L230.82 238.52 L229.94 239.41 L228.60 239.85 L227.27 239.85 L225.94 239.41 L225.50 238.96 L225.05 238.07" fill="none" stroke="#2a2a2a" stroke-width="0.90" stroke-linecap="round" stroke-linejoin="round" />
<path d="M286.28 232.75 L286.28 232.30 L286.72 231.41 L287.16 230.97 L288.05 230.53 L289.83 230.53 L290.72 230.97 L291.16 231.41 L291.60 232.30 L291.60 233.19 L291.16 234.08 L290.27 235.41 L285.83 239.85 L292.05 239.85 M300.48 231.86 L300.04 230.97 L298.71 230.53 L297.82 230.53 L296.49 230.97 L295.60 232.30 L295.16 234.52 L295.16 236.74 L295.60 238.52 L296.49 239.41 L297.82 239.85 L298.26 239.85 L299.60 239.41 L300.48 238.52 L300.93 237.19 L300.93 236.74 L300.48 235.41 L299.60 234.52 L298.26 234.08 L297.82 234.08 L296.49 234.52 L295.60 235.41 L295.16 236.74" fill="none" stroke="#2a2a2a" stroke-width="0.90" stroke-linecap="round" stroke-linejoin="round" />
<path d="M355.94 232.75 L355.94 232.30 L356.38 231.41 L356.82 230.97 L357.71 230.53 L359.49 230.53 L360.38 230.97 L360.82 231.41 L361.26 232.30 L361.26 233.19 L360.82 234.08 L359.93 235.41 L355.49 239.85 L361.71 239.85 M370.59 230.53 L366.15 239.85 M364.37 230.53 L370.59 230.53" fill="none" stroke="#2a2a2a" stroke-width="0.90" stroke-linecap="round" stroke-linejoin="round" />
<path d="M425.60 232.75 L425.60 232.30 L426.04 231.41 L426.48 230.97 L427.37 230.53 L429.15 230.53 L430.04 230.97 L430.48 231.41 L430.92 232.30 L430.92 233.19 L430.48 234.08 L429.59 235.41 L425.15 239.85 L431.37 239.85 M436.25 230.53 L434.92 230.97 L434.48 231.86 L434.48 232.75 L434.92 233.63 L435.81 234.08 L437.58 234.52 L438.92 234.97 L439.80 235.85 L440.25 236.74 L440.25 238.07 L439.80 238.96 L439.36 239.41 L438.03 239.85 L436.25 239.85 L434.92 239.41 L434.48 238.96 L434.03 238.07 L434.03 236.74 L434.48 235.85 L435.36 234.97 L436.70 234.52 L438.47 234.08 L439.36 233.63 L439.80 232.75 L439.80 231.86 L439.36 230.97 L438.03 230.53 L436.25 230.53" fill="none" stroke="#2a2a2a" stroke-width="0.90" stroke-linecap="round" stroke-linejoin="round" />
<path d="M27.33 128.05 L27.33 128.94 L27.77 129.83 L29.10 130.27 L36.65 130.27 M30.43 131.60 L30.43 128.50 M30.43 125.39 L36.65 125.39 M33.10 125.39 L31.77 124.94 L30.88 124.06 L30.43 123.17 L30.43 121.84 M30.43 114.73 L36.65 114.73 M31.77 114.73 L30.88 115.62 L30.43 116.51 L30.43 117.84 L30.88 118.73 L31.77 119.62 L33.10 120.06 L33.99 120.06 L35.32 119.62 L36.21 118.73 L36.65 117.84 L36.65 116.51 L36.21 115.62 L35.32 114.73 M31.77 106.30 L30.88 107.18 L30.43 108.07 L30.43 109.40 L30.88 110.29 L31.77 111.18 L33.10 111.62 L33.99 111.62 L35.32 111.18 L36.21 110.29 L36.65 109.40 L36.65 108.07 L36.21 107.18 L35.32 106.30" fill="none" stroke="#2a2a2a" stroke-width="0.90" stroke-linecap="round" stroke-linejoin="round" />
<path d="M223.74 248.58 L223.74 257.90 M229.06 251.68 L228.18 252.13 L227.29 253.02 L226.84 254.35 L226.84 255.24 L227.29 256.57 L228.18 257.46 L229.06 257.90 L230.40 257.90 L231.28 257.46 L232.17 256.57 L232.62 255.24 L232.62 254.35 L232.17 253.02 L231.28 252.13 L230.40 251.68 L229.06 251.68 M240.61 251.68 L240.61 258.79 L240.16 260.12 L239.72 260.56 L238.83 261.01 L237.50 261.01 L236.61 260.56 M240.61 253.02 L239.72 252.13 L238.83 251.68 L237.50 251.68 L236.61 252.13 L235.72 253.02 L235.28 254.35 L235.28 255.24 L235.72 256.57 L236.61 257.46 L237.50 257.90 L238.83 257.90 L239.72 257.46 L240.61 256.57 M247.27 246.80 L246.38 247.69 L245.49 249.02 L244.60 250.80 L244.16 253.02 L244.16 254.79 L244.60 257.01 L245.49 258.79 L246.38 260.12 L247.27 261.01 M250.38 248.58 L250.38 257.90 M250.38 248.58 L254.37 248.58 L255.70 249.02 L256.15 249.46 L256.59 250.35 L256.59 251.68 L256.15 252.57 L255.70 253.02 L254.37 253.46 L250.38 253.46" fill="none" stroke="#2a2a2a" stroke-width="0.90" stroke-linecap="round" stroke-linejoin="round" />
<path d="M259.87 256.35 L260.42 256.08 L261.25 255.30 L261.25 260.80 M265.10 260.28 L264.82 260.54 L265.10 260.80 L265.37 260.54 L265.10 260.28 M270.05 255.30 L267.30 258.97 L271.42 258.97 M270.05 255.30 L270.05 260.80 M276.92 256.61 L276.65 256.08 L276.10 255.56 L275.55 255.30 L274.45 255.30 L273.90 255.56 L273.35 256.08 L273.07 256.61 L272.80 257.39 L272.80 258.70 L273.07 259.49 L273.35 260.01 L273.90 260.54 L274.45 260.80 L275.55 260.80 L276.10 260.54 L276.65 260.01 L276.92 259.49 L276.92 258.70 M275.55 258.70 L276.92 258.70 M278.85 255.30 L278.85 260.80 M282.70 255.30 L282.70 260.80 M278.85 257.92 L282.70 257.92 M287.65 257.13 L284.62 260.80 M284.62 257.13 L287.65 257.13 M284.62 260.80 L287.65 260.80" fill="none" stroke="#2a2a2a" stroke-width="1.00" stroke-linecap="round" stroke-linejoin="round" />
<path d="M289.96 246.80 L290.84 247.69 L291.73 249.02 L292.62 250.80 L293.06 253.02 L293.06 254.79 L292.62 257.01 L291.73 258.79 L290.84 260.12 L289.96 261.01" fill="none" stroke="#2a2a2a" stroke-width="0.90" stroke-linecap="round" stroke-linejoin="round" />
<rect x="84.65" y="270.50" width="348.30" height="203.85" fill="none" stroke="#3c3c3c" stroke-width="0.82"/>
<line x1="84.65" y1="270.50" x2="84.65" y2="274.50" stroke="#3c3c3c" stroke-width="0.82" />
<line x1="84.65" y1="474.35" x2="84.65" y2="470.35" stroke="#3c3c3c" stroke-width="0.82" />
<line x1="96.26" y1="270.50" x2="96.26" y2="272.45" stroke="#3c3c3c" stroke-width="0.82" />
<line x1="96.26" y1="474.35" x2="96.26" y2="472.40" stroke="#3c3c3c" stroke-width="0.82" />
<line x1="107.87" y1="270.50" x2="107.87" y2="272.45" stroke="#3c3c3c" stroke-width="0.82" />
<line x1="107.87" y1="474.35" x2="107.87" y2="472.40" stroke="#3c3c3c" stroke-width="0.82" />
<line x1="119.48" y1="270.50" x2="119.48" y2="272.45" stroke="#3c3c3c" stroke-width="0.82" />
<line x1="119.48" y1="474.35" x2="119.48" y2="472.40" stroke="#3c3c3c" stroke-width="0.82" />
<line x1="131.09" y1="270.50" x2="131.09" y2="272.45" stroke="#3c3c3c" stroke-width="0.82" />
<line x1="131.09" y1="474.35" x2="131.09" y2="472.40" stroke="#3c3c3c" stroke-width="0.82" />
<line x1="142.70" y1="270.50" x2="142.70" y2="274.50" stroke="#3c3c3c" stroke-width="0.82" />
<line x1="142.70" y1="474.35" x2="142.70" y2="470.35" stroke="#3c3c3c" stroke-width="0.82" />
<line x1="154.31" y1="270.50" x2="154.31" y2="272.45" stroke="#3c3c3c" stroke-width="0.82" />
<line x1="154.31" y1="474.35" x2="154.31" y2="472.40" stroke="#3c3c3c" stroke-width="0.82" />
<line x1="165.92" y1="270.50" x2="165.92" y2="272.45" stroke="#3c3c3c" stroke-width="0.82" />
<line x1="165.92" y1="474.35" x2="165.92" y2="472.40" stroke="#3c3c3c" stroke-width="0.82" />
<line x1="177.53" y1="270.50" x2="177.53" y2="272.45" stroke="#3c3c3c" stroke-width="0.82" />
<line x1="177.53" y1="474.35" x2="177.53" y2="472.40" stroke="#3c3c3c" stroke-width="0.82" />
<line x1="189.14" y1="270.50" x2="189.14" y2="272.45" stroke="#3c3c3c" stroke-width="0.82" />
<line x1="189.14" y1="474.35" x2="189.14" y2="472.40" stroke="#3c3c3c" stroke-width="0.82" />
<line x1="200.75" y1="270.50" x2="200.75" y2="274.50" stroke="#3c3c3c" stroke-width="0.82" />
<line x1="200.75" y1="474.35" x2="200.75" y2="470.35" stroke="#3c3c3c" stroke-width="0.82" />
<line x1="212.36" y1="270.50" x2="212.36" y2="272.45" stroke="#3c3c3c" stroke-width="0.82" />
<line x1="212.36" y1="474.35" x2="212.36" y2="472.40" stroke="#3c3c3c" stroke-width="0.82" />
<line x1="223.97" y1="270.50" x2="223.97" y2="272.45" stroke="#3c3c3c" stroke-width="0.82" />
<line x1="223.97" y1="474.35" x2="223.97" y2="472.40" stroke="#3c3c3c" stroke-width="0.82" />
<line x1="235.58" y1="270.50" x2="235.58" y2="272.45" stroke="#3c3c3c" stroke-width="0.82" />
<line x1="235.58" y1="474.35" x2="235.58" y2="472.40" stroke="#3c3c3c" stroke-width="0.82" />
<line x1="247.19" y1="270.50" x2="247.19" y2="272.45" stroke="#3c3c3c" stroke-width="0.82" />
<line x1="247.19" y1="474.35" x2="247.19" y2="472.40" stroke="#3c3c3c" stroke-width="0.82" />
<line x1="258.80" y1="270.50" x2="258.80" y2="274.50" stroke="#3c3c3c" stroke-width="0.82" />
<line x1="258.80" y1="474.35" x2="258.80" y2="470.35" stroke="#3c3c3c" stroke-width="0.82" />
<line x1="270.41" y1="270.50" x2="270.41" y2="272.45" stroke="#3c3c3c" stroke-width="0.82" />
<line x1="270.41" y1="474.35" x2="270.41" y2="472.40" stroke="#3c3c3c" stroke-width="0.82" />
<line x1="282.02" y1="270.50" x2="282.02" y2="272.45" stroke="#3c3c3c" stroke-width="0.82" />
<line x1="282.02" y1="474.35" x2="282.02" y2="472.40" stroke="#3c3c3c" stroke-width="0.82" />
<line x1="293.63" y1="270.50" x2="293.63" y2="272.45" stroke="#3c3c3c" stroke-width="0.82" />
<line x1="293.63" y1="474.35" x2="293.63" y2="472.40" stroke="#3c3c3c" stroke-width="0.82" />
<line x1="305.24" y1="270.50" x2="305.24" y2="272.45" stroke="#3c3c3c" stroke-width="0.82" />
<line x1="305.24" y1="474.35" x2="305.24" y2="472.40" stroke="#3c3c3c" stroke-width="0.82" />
<line x1="316.85" y1="270.50" x2="316.85" y2="274.50" stroke="#3c3c3c" stroke-width="0.82" />
<line x1="316.85" y1="474.35" x2="316.85" y2="470.35" stroke="#3c3c3c" stroke-width="0.82" />
<line x1="328.46" y1="270.50" x2="328.46" y2="272.45" stroke="#3c3c3c" stroke-width="0.82" />
<line x1="328.46" y1="474.35" x2="328.46" y2="472.40" stroke="#3c3c3c" stroke-width="0.82" />
<line x1="340.07" y1="270.50" x2="340.07" y2="272.45" stroke="#3c3c3c" stroke-width="0.82" />
<line x1="340.07" y1="474.35" x2="340.07" y2="472.40" stroke="#3c3c3c" stroke-width="0.82" />
<line x1="351.68" y1="270.50" x2="351.68" y2="272.45" stroke="#3c3c3c" stroke-width="0.82" />
<line x1="351.68" y1="474.35" x2="351.68" y2="472.40" stroke="#3c3c3c" stroke-width="0.82" />
<line x1="363.29" y1="270.50" x2="363.29" y2="272.45" stroke="#3c3c3c" stroke-width="0.82" />
<line x1="363.29" y1="474.35" x2="363.29" y2="472.40" stroke="#3c3c3c" stroke-width="0.82" />
<line x1="374.90" y1="270.50" x2="374.90" y2="274.50" stroke="#3c3c3c" stroke-width="0.82" />
<line x1="374.90" y1="474.35" x2="374.90" y2="470.35" stroke="#3c3c3c" stroke-width="0.82" />
<line x1="386.51" y1="270.50" x2="386.51" y2="272.45" stroke="#3c3c3c" stroke-width="0.82" />
<line x1="386.51" y1="474.35" x2="386.51" y2="472.40" stroke="#3c3c3c" stroke-width="0.82" />
<line x1="398.12" y1="270.50" x2="398.12" y2="272.45" stroke="#3c3c3c" stroke-width="0.82" />
<line x1="398.12" y1="474.35" x2="398.12" y2="472.40" stroke="#3c3c3c" stroke-width="0.82" />
<line x1="409.73" y1="270.50" x2="409.73" y2="272.45" stroke="#3c3c3c" stroke-width="0.82" />
<line x1="409.73" y1="474.35" x2="409.73" y2="472.40" stroke="#3c3c3c" stroke-width="0.82" />
<line x1="421.34" y1="270.50" x2="421.34" y2="272.45" stroke="#3c3c3c" stroke-width="0.82" />
<line x1="421.34" y1="474.35" x2="421.34" y2="472.40" stroke="#3c3c3c" stroke-width="0.82" />
<line x1="432.95" y1="270.50" x2="432.95" y2="274.50" stroke="#3c3c3c" stroke-width="0.82" />
<line x1="432.95" y1="474.35" x2="432.95" y2="470.35" stroke="#3c3c3c" stroke-width="0.82" />
<line x1="84.65" y1="474.35" x2="91.65" y2="474.35" stroke="#3c3c3c" stroke-width="0.82" />
<line x1="432.95" y1="474.35" x2="425.95" y2="474.35" stroke="#3c3c3c" stroke-width="0.82" />
<line x1="84.65" y1="467.87" x2="88.15" y2="467.87" stroke="#3c3c3c" stroke-width="0.82" />
<line x1="432.95" y1="467.87" x2="429.45" y2="467.87" stroke="#3c3c3c" stroke-width="0.82" />
<line x1="84.65" y1="461.39" x2="88.15" y2="461.39" stroke="#3c3c3c" stroke-width="0.82" />
<line x1="432.95" y1="461.39" x2="429.45" y2="461.39" stroke="#3c3c3c" stroke-width="0.82" />
<line x1="84.65" y1="454.91" x2="88.15" y2="454.91" stroke="#3c3c3c" stroke-width="0.82" />
<line x1="432.95" y1="454.91" x2="429.45" y2="454.91" stroke="#3c3c3c" stroke-width="0.82" />
<line x1="84.65" y1="448.42" x2="88.15" y2="448.42" stroke="#3c3c3c" stroke-width="0.82" />
<line x1="432.95" y1="448.42" x2="429.45" y2="448.42" stroke="#3c3c3c" stroke-width="0.82" />
<line x1="84.65" y1="441.94" x2="91.65" y2="441.94" stroke="#3c3c3c" stroke-width="0.82" />
<line x1="432.95" y1="441.94" x2="425.95" y2="441.94" stroke="#3c3c3c" stroke-width="0.82" />
<line x1="84.65" y1="435.46" x2="88.15" y2="435.46" stroke="#3c3c3c" stroke-width="0.82" />
<line x1="432.95" y1="435.46" x2="429.45" y2="435.46" stroke="#3c3c3c" stroke-width="0.82" />
<line x1="84.65" y1="428.98" x2="88.15" y2="428.98" stroke="#3c3c3c" stroke-width="0.82" />
<line x1="432.95" y1="428.98" x2="429.45" y2="428.98" stroke="#3c3c3c" stroke-width="0.82" />
<line x1="84.65" y1="422.50" x2="88.15" y2="422.50" stroke="#3c3c3c" stroke-width="0.82" />
<line x1="432.95" y1="422.50" x2="429.45" y2="422.50" stroke="#3c3c3c" stroke-width="0.82" />
<line x1="84.65" y1="416.01" x2="88.15" y2="416.01" stroke="#3c3c3c" stroke-width="0.82" />
<line x1="432.95" y1="416.01" x2="429.45" y2="416.01" stroke="#3c3c3c" stroke-width="0.82" />
<line x1="84.65" y1="409.53" x2="91.65" y2="409.53" stroke="#3c3c3c" stroke-width="0.82" />
<line x1="432.95" y1="409.53" x2="425.95" y2="409.53" stroke="#3c3c3c" stroke-width="0.82" />
<line x1="84.65" y1="403.05" x2="88.15" y2="403.05" stroke="#3c3c3c" stroke-width="0.82" />
<line x1="432.95" y1="403.05" x2="429.45" y2="403.05" stroke="#3c3c3c" stroke-width="0.82" />
<line x1="84.65" y1="396.57" x2="88.15" y2="396.57" stroke="#3c3c3c" stroke-width="0.82" />
<line x1="432.95" y1="396.57" x2="429.45" y2="396.57" stroke="#3c3c3c" stroke-width="0.82" />
<line x1="84.65" y1="390.09" x2="88.15" y2="390.09" stroke="#3c3c3c" stroke-width="0.82" />
<line x1="432.95" y1="390.09" x2="429.45" y2="390.09" stroke="#3c3c3c" stroke-width="0.82" />
<line x1="84.65" y1="383.61" x2="88.15" y2="383.61" stroke="#3c3c3c" stroke-width="0.82" />
<line x1="432.95" y1="383.61" x2="429.45" y2="383.61" stroke="#3c3c3c" stroke-width="0.82" />
<line x1="84.65" y1="377.12" x2="91.65" y2="377.12" stroke="#3c3c3c" stroke-width="0.82" />
<line x1="432.95" y1="377.12" x2="425.95" y2="377.12" stroke="#3c3c3c" stroke-width="0.82" />
<line x1="84.65" y1="370.64" x2="88.15" y2="370.64" stroke="#3c3c3c" stroke-width="0.82" />
<line x1="432.95" y1="370.64" x2="429.45" y2="370.64" stroke="#3c3c3c" stroke-width="0.82" />
<line x1="84.65" y1="364.16" x2="88.15" y2="364.16" stroke="#3c3c3c" stroke-width="0.82" />
<line x1="432.95" y1="364.16" x2="429.45" y2="364.16" stroke="#3c3c3c" stroke-width="0.82" />
<line x1="84.65" y1="357.68" x2="88.15" y2="357.68" stroke="#3c3c3c" stroke-width="0.82" />
<line x1="432.95" y1="357.68" x2="429.45" y2="357.68" stroke="#3c3c3c" stroke-width="0.82" />
<line x1="84.65" y1="351.20" x2="88.15" y2="351.20" stroke="#3c3c3c" stroke-width="0.82" />
<line x1="432.95" y1="351.20" x2="429.45" y2="351.20" stroke="#3c3c3c" stroke-width="0.82" />
<line x1="84.65" y1="344.72" x2="91.65" y2="344.72" stroke="#3c3c3c" stroke-width="0.82" />
<line x1="432.95" y1="344.72" x2="425.95" y2="344.72" stroke="#3c3c3c" stroke-width="0.82" />
<line x1="84.65" y1="338.24" x2="88.15" y2="338.24" stroke="#3c3c3c" stroke-width="0.82" />
<line x1="432.95" y1="338.24" x2="429.45" y2="338.24" stroke="#3c3c3c" stroke-width="0.82" />
<line x1="84.65" y1="331.75" x2="88.15" y2="331.75" stroke="#3c3c3c" stroke-width="0.82" />
<line x1="432.95" y1="331.75" x2="429.45" y2="331.75" stroke="#3c3c3c" stroke-width="0.82" />
<line x1="84.65" y1="325.27" x2="88.15" y2="325.27" stroke="#3c3c3c" stroke-width="0.82" />
<line x1="432.95" y1="325.27" x2="429.45" y2="325.27" stroke="#3c3c3c" stroke-width="0.82" />
<line x1="84.65" y1="318.79" x2="88.15" y2="318.79" stroke="#3c3c3c" stroke-width="0.82" />
<line x1="432.95" y1="318.79" x2="429.45" y2="318.79" stroke="#3c3c3c" stroke-width="0.82" />
<line x1="84.65" y1="312.31" x2="91.65" y2="312.31" stroke="#3c3c3c" stroke-width="0.82" />
<line x1="432.95" y1="312.31" x2="425.95" y2="312.31" stroke="#3c3c3c" stroke-width="0.82" />
<line x1="84.65" y1="305.83" x2="88.15" y2="305.83" stroke="#3c3c3c" stroke-width="0.82" />
<line x1="432.95" y1="305.83" x2="429.45" y2="305.83" stroke="#3c3c3c" stroke-width="0.82" />
<line x1="84.65" y1="299.34" x2="88.15" y2="299.34" stroke="#3c3c3c" stroke-width="0.82" />
<line x1="432.95" y1="299.34" x2="429.45" y2="299.34" stroke="#3c3c3c" stroke-width="0.82" />
<line x1="84.65" y1="292.86" x2="88.15" y2="292.86" stroke="#3c3c3c" stroke-width="0.82" />
<line x1="432.95" y1="292.86" x2="429.45" y2="292.86" stroke="#3c3c3c" stroke-width="0.82" />
<line x1="84.65" y1="286.38" x2="88.15" y2="286.38" stroke="#3c3c3c" stroke-width="0.82" />
<line x1="432.95" y1="286.38" x2="429.45" y2="286.38" stroke="#3c3c3c" stroke-width="0.82" />
<line x1="84.65" y1="279.90" x2="91.65" y2="279.90" stroke="#3c3c3c" stroke-width="0.82" />
<line x1="432.95" y1="279.90" x2="425.95" y2="279.90" stroke="#3c3c3c" stroke-width="0.82" />
<line x1="84.65" y1="273.42" x2="88.15" y2="273.42" stroke="#3c3c3c" stroke-width="0.82" />
<line x1="432.95" y1="273.42" x2="429.45" y2="273.42" stroke="#3c3c3c" stroke-width="0.82" />
<polyline points="84.65,474.35 119.60,474.35 136.90,469.20 154.60,451.70 171.90,402.00 189.20,341.00 206.50,296.10 223.90,326.10 241.20,400.10 258.60,458.80 276.00,471.70 293.60,474.35 380.00,474.35" fill="none" stroke="#ff0000" stroke-width="1.15" stroke-linejoin="round" />
<polyline points="84.65,474.35 102.10,468.40 119.60,461.30 136.90,458.70 154.60,451.40 171.90,438.30 189.20,428.00 206.50,400.10 223.90,392.60 241.20,372.10 258.60,395.60 276.00,412.80 293.60,415.20 311.00,434.80 328.40,463.80 345.80,471.70 363.30,471.70 380.70,474.35 415.50,474.35" fill="none" stroke="#0000ff" stroke-width="1.15" stroke-linejoin="round" />
<path d="M52.95 464.93 L51.62 465.37 L50.73 466.70 L50.28 468.92 L50.28 470.25 L50.73 472.47 L51.62 473.81 L52.95 474.25 L53.84 474.25 L55.17 473.81 L56.06 472.47 L56.50 470.25 L56.50 468.92 L56.06 466.70 L55.17 465.37 L53.84 464.93 L52.95 464.93 M60.05 473.36 L59.61 473.81 L60.05 474.25 L60.50 473.81 L60.05 473.36 M66.27 464.93 L64.94 465.37 L64.05 466.70 L63.60 468.92 L63.60 470.25 L64.05 472.47 L64.94 473.81 L66.27 474.25 L67.16 474.25 L68.49 473.81 L69.38 472.47 L69.82 470.25 L69.82 468.92 L69.38 466.70 L68.49 465.37 L67.16 464.93 L66.27 464.93 M75.15 464.93 L73.82 465.37 L72.93 466.70 L72.48 468.92 L72.48 470.25 L72.93 472.47 L73.82 473.81 L75.15 474.25 L76.04 474.25 L77.37 473.81 L78.26 472.47 L78.70 470.25 L78.70 468.92 L78.26 466.70 L77.37 465.37 L76.04 464.93 L75.15 464.93" fill="none" stroke="#2a2a2a" stroke-width="0.90" stroke-linecap="round" stroke-linejoin="round" />
<path d="M52.95 438.02 L51.62 438.46 L50.73 439.79 L50.28 442.01 L50.28 443.35 L50.73 445.57 L51.62 446.90 L52.95 447.34 L53.84 447.34 L55.17 446.90 L56.06 445.57 L56.50 443.35 L56.50 442.01 L56.06 439.79 L55.17 438.46 L53.84 438.02 L52.95 438.02 M60.05 446.45 L59.61 446.90 L60.05 447.34 L60.50 446.90 L60.05 446.45 M66.27 438.02 L64.94 438.46 L64.05 439.79 L63.60 442.01 L63.60 443.35 L64.05 445.57 L64.94 446.90 L66.27 447.34 L67.16 447.34 L68.49 446.90 L69.38 445.57 L69.82 443.35 L69.82 442.01 L69.38 439.79 L68.49 438.46 L67.16 438.02 L66.27 438.02 M77.81 438.02 L73.37 438.02 L72.93 442.01 L73.37 441.57 L74.70 441.13 L76.04 441.13 L77.37 441.57 L78.26 442.46 L78.70 443.79 L78.70 444.68 L78.26 446.01 L77.37 446.90 L76.04 447.34 L74.70 447.34 L73.37 446.90 L72.93 446.45 L72.48 445.57" fill="none" stroke="#2a2a2a" stroke-width="0.90" stroke-linecap="round" stroke-linejoin="round" />
<path d="M52.95 405.61 L51.62 406.05 L50.73 407.39 L50.28 409.61 L50.28 410.94 L50.73 413.16 L51.62 414.49 L52.95 414.93 L53.84 414.93 L55.17 414.49 L56.06 413.16 L56.50 410.94 L56.50 409.61 L56.06 407.39 L55.17 406.05 L53.84 405.61 L52.95 405.61 M60.05 414.05 L59.61 414.49 L60.05 414.93 L60.50 414.49 L60.05 414.05 M64.94 407.39 L65.82 406.94 L67.16 405.61 L67.16 414.93 M75.15 405.61 L73.82 406.05 L72.93 407.39 L72.48 409.61 L72.48 410.94 L72.93 413.16 L73.82 414.49 L75.15 414.93 L76.04 414.93 L77.37 414.49 L78.26 413.16 L78.70 410.94 L78.70 409.61 L78.26 407.39 L77.37 406.05 L76.04 405.61 L75.15 405.61" fill="none" stroke="#2a2a2a" stroke-width="0.90" stroke-linecap="round" stroke-linejoin="round" />
<path d="M52.95 373.20 L51.62 373.64 L50.73 374.98 L50.28 377.20 L50.28 378.53 L50.73 380.75 L51.62 382.08 L52.95 382.52 L53.84 382.52 L55.17 382.08 L56.06 380.75 L56.50 378.53 L56.50 377.20 L56.06 374.98 L55.17 373.64 L53.84 373.20 L52.95 373.20 M60.05 381.64 L59.61 382.08 L60.05 382.52 L60.50 382.08 L60.05 381.64 M64.94 374.98 L65.82 374.53 L67.16 373.20 L67.16 382.52 M77.81 373.20 L73.37 373.20 L72.93 377.20 L73.37 376.75 L74.70 376.31 L76.04 376.31 L77.37 376.75 L78.26 377.64 L78.70 378.97 L78.70 379.86 L78.26 381.19 L77.37 382.08 L76.04 382.52 L74.70 382.52 L73.37 382.08 L72.93 381.64 L72.48 380.75" fill="none" stroke="#2a2a2a" stroke-width="0.90" stroke-linecap="round" stroke-linejoin="round" />
<path d="M52.95 340.79 L51.62 341.24 L50.73 342.57 L50.28 344.79 L50.28 346.12 L50.73 348.34 L51.62 349.67 L52.95 350.12 L53.84 350.12 L55.17 349.67 L56.06 348.34 L56.50 346.12 L56.50 344.79 L56.06 342.57 L55.17 341.24 L53.84 340.79 L52.95 340.79 M60.05 349.23 L59.61 349.67 L60.05 350.12 L60.50 349.67 L60.05 349.23 M64.05 343.01 L64.05 342.57 L64.49 341.68 L64.94 341.24 L65.82 340.79 L67.60 340.79 L68.49 341.24 L68.93 341.68 L69.38 342.57 L69.38 343.46 L68.93 344.34 L68.04 345.68 L63.60 350.12 L69.82 350.12 M75.15 340.79 L73.82 341.24 L72.93 342.57 L72.48 344.79 L72.48 346.12 L72.93 348.34 L73.82 349.67 L75.15 350.12 L76.04 350.12 L77.37 349.67 L78.26 348.34 L78.70 346.12 L78.70 344.79 L78.26 342.57 L77.37 341.24 L76.04 340.79 L75.15 340.79" fill="none" stroke="#2a2a2a" stroke-width="0.90" stroke-linecap="round" stroke-linejoin="round" />
<path d="M52.95 308.38 L51.62 308.83 L50.73 310.16 L50.28 312.38 L50.28 313.71 L50.73 315.93 L51.62 317.26 L52.95 317.71 L53.84 317.71 L55.17 317.26 L56.06 315.93 L56.50 313.71 L56.50 312.38 L56.06 310.16 L55.17 308.83 L53.84 308.38 L52.95 308.38 M60.05 316.82 L59.61 317.26 L60.05 317.71 L60.50 317.26 L60.05 316.82 M64.05 310.60 L64.05 310.16 L64.49 309.27 L64.94 308.83 L65.82 308.38 L67.60 308.38 L68.49 308.83 L68.93 309.27 L69.38 310.16 L69.38 311.05 L68.93 311.94 L68.04 313.27 L63.60 317.71 L69.82 317.71 M77.81 308.38 L73.37 308.38 L72.93 312.38 L73.37 311.94 L74.70 311.49 L76.04 311.49 L77.37 311.94 L78.26 312.82 L78.70 314.16 L78.70 315.04 L78.26 316.38 L77.37 317.26 L76.04 317.71 L74.70 317.71 L73.37 317.26 L72.93 316.82 L72.48 315.93" fill="none" stroke="#2a2a2a" stroke-width="0.90" stroke-linecap="round" stroke-linejoin="round" />
<path d="M52.95 275.98 L51.62 276.42 L50.73 277.75 L50.28 279.97 L50.28 281.30 L50.73 283.52 L51.62 284.86 L52.95 285.30 L53.84 285.30 L55.17 284.86 L56.06 283.52 L56.50 281.30 L56.50 279.97 L56.06 277.75 L55.17 276.42 L53.84 275.98 L52.95 275.98 M60.05 284.41 L59.61 284.86 L60.05 285.30 L60.50 284.86 L60.05 284.41 M64.49 275.98 L69.38 275.98 L66.71 279.53 L68.04 279.53 L68.93 279.97 L69.38 280.42 L69.82 281.75 L69.82 282.64 L69.38 283.97 L68.49 284.86 L67.16 285.30 L65.82 285.30 L64.49 284.86 L64.05 284.41 L63.60 283.52 M75.15 275.98 L73.82 276.42 L72.93 277.75 L72.48 279.97 L72.48 281.30 L72.93 283.52 L73.82 284.86 L75.15 285.30 L76.04 285.30 L77.37 284.86 L78.26 283.52 L78.70 281.30 L78.70 279.97 L78.26 277.75 L77.37 276.42 L76.04 275.98 L75.15 275.98" fill="none" stroke="#2a2a2a" stroke-width="0.90" stroke-linecap="round" stroke-linejoin="round" />
<path d="M80.85 484.93 L76.41 494.25 M74.63 484.93 L80.85 484.93 M84.40 493.36 L83.96 493.81 L84.40 494.25 L84.84 493.81 L84.40 493.36 M93.28 484.93 L88.84 484.93 L88.40 488.92 L88.84 488.48 L90.17 488.03 L91.50 488.03 L92.84 488.48 L93.72 489.37 L94.17 490.70 L94.17 491.59 L93.72 492.92 L92.84 493.81 L91.50 494.25 L90.17 494.25 L88.84 493.81 L88.40 493.36 L87.95 492.47" fill="none" stroke="#2a2a2a" stroke-width="0.90" stroke-linecap="round" stroke-linejoin="round" />
<path d="M134.90 484.93 L133.57 485.37 L133.13 486.26 L133.13 487.15 L133.57 488.03 L134.46 488.48 L136.23 488.92 L137.57 489.37 L138.45 490.25 L138.90 491.14 L138.90 492.47 L138.45 493.36 L138.01 493.81 L136.68 494.25 L134.90 494.25 L133.57 493.81 L133.13 493.36 L132.68 492.47 L132.68 491.14 L133.13 490.25 L134.01 489.37 L135.35 488.92 L137.12 488.48 L138.01 488.03 L138.45 487.15 L138.45 486.26 L138.01 485.37 L136.68 484.93 L134.90 484.93 M142.45 493.36 L142.01 493.81 L142.45 494.25 L142.89 493.81 L142.45 493.36 M148.67 484.93 L147.33 485.37 L146.45 486.70 L146.00 488.92 L146.00 490.25 L146.45 492.47 L147.33 493.81 L148.67 494.25 L149.55 494.25 L150.89 493.81 L151.77 492.47 L152.22 490.25 L152.22 488.92 L151.77 486.70 L150.89 485.37 L149.55 484.93 L148.67 484.93" fill="none" stroke="#2a2a2a" stroke-width="0.90" stroke-linecap="round" stroke-linejoin="round" />
<path d="M192.95 484.93 L191.62 485.37 L191.18 486.26 L191.18 487.15 L191.62 488.03 L192.51 488.48 L194.28 488.92 L195.62 489.37 L196.50 490.25 L196.95 491.14 L196.95 492.47 L196.50 493.36 L196.06 493.81 L194.73 494.25 L192.95 494.25 L191.62 493.81 L191.18 493.36 L190.73 492.47 L190.73 491.14 L191.18 490.25 L192.06 489.37 L193.40 488.92 L195.17 488.48 L196.06 488.03 L196.50 487.15 L196.50 486.26 L196.06 485.37 L194.73 484.93 L192.95 484.93 M200.50 493.36 L200.06 493.81 L200.50 494.25 L200.94 493.81 L200.50 493.36 M209.38 484.93 L204.94 484.93 L204.50 488.92 L204.94 488.48 L206.27 488.03 L207.60 488.03 L208.94 488.48 L209.82 489.37 L210.27 490.70 L210.27 491.59 L209.82 492.92 L208.94 493.81 L207.60 494.25 L206.27 494.25 L204.94 493.81 L204.50 493.36 L204.05 492.47" fill="none" stroke="#2a2a2a" stroke-width="0.90" stroke-linecap="round" stroke-linejoin="round" />
<path d="M254.55 488.03 L254.11 489.37 L253.22 490.25 L251.89 490.70 L251.45 490.70 L250.11 490.25 L249.23 489.37 L248.78 488.03 L248.78 487.59 L249.23 486.26 L250.11 485.37 L251.45 484.93 L251.89 484.93 L253.22 485.37 L254.11 486.26 L254.55 488.03 L254.55 490.25 L254.11 492.47 L253.22 493.81 L251.89 494.25 L251.00 494.25 L249.67 493.81 L249.23 492.92 M258.55 493.36 L258.11 493.81 L258.55 494.25 L258.99 493.81 L258.55 493.36 M264.77 484.93 L263.43 485.37 L262.55 486.70 L262.10 488.92 L262.10 490.25 L262.55 492.47 L263.43 493.81 L264.77 494.25 L265.65 494.25 L266.99 493.81 L267.87 492.47 L268.32 490.25 L268.32 488.92 L267.87 486.70 L266.99 485.37 L265.65 484.93 L264.77 484.93" fill="none" stroke="#2a2a2a" stroke-width="0.90" stroke-linecap="round" stroke-linejoin="round" />
<path d="M312.60 488.03 L312.16 489.37 L311.27 490.25 L309.94 490.70 L309.50 490.70 L308.16 490.25 L307.28 489.37 L306.83 488.03 L306.83 487.59 L307.28 486.26 L308.16 485.37 L309.50 484.93 L309.94 484.93 L311.27 485.37 L312.16 486.26 L312.60 488.03 L312.60 490.25 L312.16 492.47 L311.27 493.81 L309.94 494.25 L309.05 494.25 L307.72 493.81 L307.28 492.92 M316.60 493.36 L316.16 493.81 L316.60 494.25 L317.04 493.81 L316.60 493.36 M325.48 484.93 L321.04 484.93 L320.60 488.92 L321.04 488.48 L322.37 488.03 L323.70 488.03 L325.04 488.48 L325.92 489.37 L326.37 490.70 L326.37 491.59 L325.92 492.92 L325.04 493.81 L323.70 494.25 L322.37 494.25 L321.04 493.81 L320.60 493.36 L320.15 492.47" fill="none" stroke="#2a2a2a" stroke-width="0.90" stroke-linecap="round" stroke-linejoin="round" />
<path d="M361.77 486.70 L362.66 486.26 L363.99 484.93 L363.99 494.25 M371.99 484.93 L370.65 485.37 L369.77 486.70 L369.32 488.92 L369.32 490.25 L369.77 492.47 L370.65 493.81 L371.99 494.25 L372.87 494.25 L374.21 493.81 L375.09 492.47 L375.54 490.25 L375.54 488.92 L375.09 486.70 L374.21 485.37 L372.87 484.93 L371.99 484.93 M379.09 493.36 L378.65 493.81 L379.09 494.25 L379.53 493.81 L379.09 493.36 M385.31 484.93 L383.97 485.37 L383.09 486.70 L382.64 488.92 L382.64 490.25 L383.09 492.47 L383.97 493.81 L385.31 494.25 L386.19 494.25 L387.53 493.81 L388.41 492.47 L388.86 490.25 L388.86 488.92 L388.41 486.70 L387.53 485.37 L386.19 484.93 L385.31 484.93" fill="none" stroke="#2a2a2a" stroke-width="0.90" stroke-linecap="round" stroke-linejoin="round" />
<path d="M419.82 486.70 L420.71 486.26 L422.04 484.93 L422.04 494.25 M430.04 484.93 L428.70 485.37 L427.82 486.70 L427.37 488.92 L427.37 490.25 L427.82 492.47 L428.70 493.81 L430.04 494.25 L430.92 494.25 L432.26 493.81 L433.14 492.47 L433.59 490.25 L433.59 488.92 L433.14 486.70 L432.26 485.37 L430.92 484.93 L430.04 484.93 M437.14 493.36 L436.70 493.81 L437.14 494.25 L437.58 493.81 L437.14 493.36 M446.02 484.93 L441.58 484.93 L441.14 488.92 L441.58 488.48 L442.91 488.03 L444.24 488.03 L445.58 488.48 L446.46 489.37 L446.91 490.70 L446.91 491.59 L446.46 492.92 L445.58 493.81 L444.24 494.25 L442.91 494.25 L441.58 493.81 L441.14 493.36 L440.69 492.47" fill="none" stroke="#2a2a2a" stroke-width="0.90" stroke-linecap="round" stroke-linejoin="round" />
<path d="M27.33 381.83 L27.33 382.71 L27.77 383.60 L29.10 384.05 L36.65 384.05 M30.43 385.38 L30.43 382.27 M30.43 379.16 L36.65 379.16 M33.10 379.16 L31.77 378.72 L30.88 377.83 L30.43 376.94 L30.43 375.61 M30.43 368.51 L36.65 368.51 M31.77 368.51 L30.88 369.39 L30.43 370.28 L30.43 371.62 L30.88 372.50 L31.77 373.39 L33.10 373.83 L33.99 373.83 L35.32 373.39 L36.21 372.50 L36.65 371.62 L36.65 370.28 L36.21 369.39 L35.32 368.51 M31.77 360.07 L30.88 360.96 L30.43 361.85 L30.43 363.18 L30.88 364.07 L31.77 364.95 L33.10 365.40 L33.99 365.40 L35.32 364.95 L36.21 364.07 L36.65 363.18 L36.65 361.85 L36.21 360.96 L35.32 360.07" fill="none" stroke="#2a2a2a" stroke-width="0.90" stroke-linecap="round" stroke-linejoin="round" />
<path d="M233.07 502.63 L233.07 511.95 M238.40 505.73 L237.51 506.18 L236.62 507.07 L236.18 508.40 L236.18 509.29 L236.62 510.62 L237.51 511.51 L238.40 511.95 L239.73 511.95 L240.62 511.51 L241.51 510.62 L241.95 509.29 L241.95 508.40 L241.51 507.07 L240.62 506.18 L239.73 505.73 L238.40 505.73 M249.94 505.73 L249.94 512.84 L249.50 514.17 L249.05 514.61 L248.17 515.06 L246.83 515.06 L245.95 514.61 M249.94 507.07 L249.05 506.18 L248.17 505.73 L246.83 505.73 L245.95 506.18 L245.06 507.07 L244.61 508.40 L244.61 509.29 L245.06 510.62 L245.95 511.51 L246.83 511.95 L248.17 511.95 L249.05 511.51 L249.94 510.62 M256.60 500.85 L255.71 501.74 L254.83 503.07 L253.94 504.85 L253.49 507.07 L253.49 508.84 L253.94 511.06 L254.83 512.84 L255.71 514.17 L256.60 515.06 M259.71 502.63 L259.71 511.95 M259.71 502.63 L263.26 511.95 M266.81 502.63 L263.26 511.95 M266.81 502.63 L266.81 511.95" fill="none" stroke="#2a2a2a" stroke-width="0.90" stroke-linecap="round" stroke-linejoin="round" />
<path d="M269.99 509.35 L269.99 514.85 M269.99 511.97 L270.54 511.44 L271.09 511.18 L271.92 511.18 L272.47 511.44 L273.02 511.97 L273.29 512.75 L273.29 513.28 L273.02 514.06 L272.47 514.59 L271.92 514.85 L271.09 514.85 L270.54 514.59 L269.99 514.06 M275.22 509.35 L275.22 514.85 M275.22 512.23 L276.04 511.44 L276.59 511.18 L277.42 511.18 L277.97 511.44 L278.24 512.23 L278.24 514.85" fill="none" stroke="#2a2a2a" stroke-width="1.00" stroke-linecap="round" stroke-linejoin="round" />
<path d="M280.62 500.85 L281.51 501.74 L282.40 503.07 L283.29 504.85 L283.73 507.07 L283.73 508.84 L283.29 511.06 L282.40 512.84 L281.51 514.17 L280.62 515.06" fill="none" stroke="#2a2a2a" stroke-width="0.90" stroke-linecap="round" stroke-linejoin="round" />
</svg>
</body></html>
